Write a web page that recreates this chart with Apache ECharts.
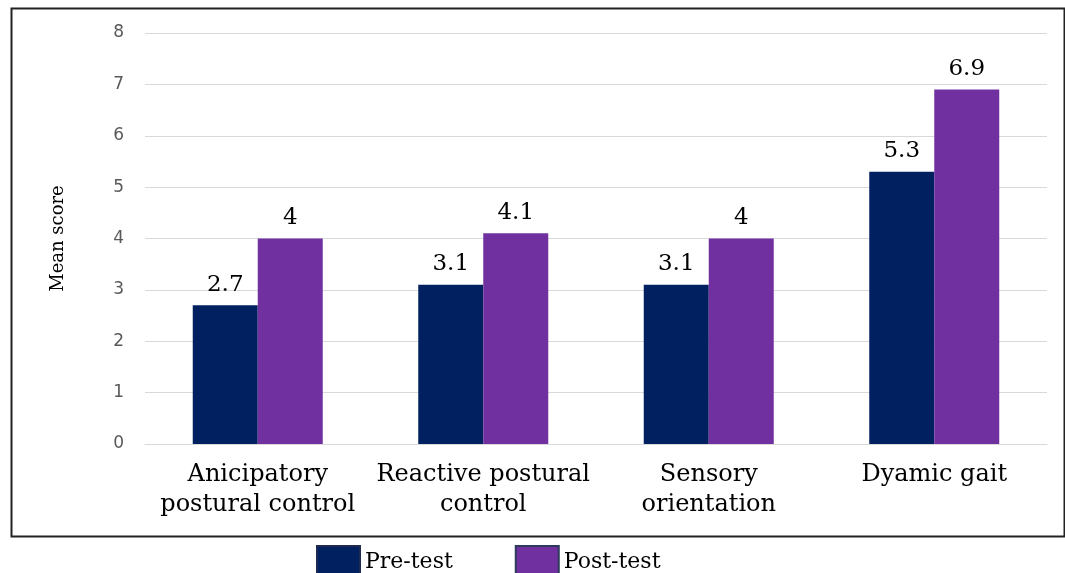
<!DOCTYPE html>
<html>
<head>
<meta charset="utf-8">
<script src="https://cdn.jsdelivr.net/npm/echarts@6/dist/echarts.min.js"></script>
<style>html,body{margin:0;padding:0;background:#fff;}#c{width:1065px;height:573px;}</style>
</head>
<body>
<div id="c"></div>
<script>
const categories = ['Anicipatory\npostural control', 'Reactive postural\ncontrol', 'Sensory\norientation', 'Dyamic gait'];
const preTest = [2.7, 3.1, 3.1, 5.3];
const postTest = [4, 4.1, 4, 6.9];
const yTicks = [0, 8, 1];

const chart = echarts.init(document.getElementById('c'), null, {renderer: 'canvas'});
const labelStyle = {show: true, position: 'top', distance: 9, color: '#000', fontFamily: 'DejaVu Serif', fontSize: 23};
chart.setOption({
  animation: false,
  backgroundColor: '#fff',
  graphic: [{
    type: 'rect', left: 9, top: 6, z: -1,
    shape: {width: 1053, height: 528},
    style: {fill: 'none', stroke: '#222', lineWidth: 2}
  }],
  legend: {
    left: 311, top: 540,
    icon: 'rect',
    itemWidth: 43, itemHeight: 33, itemGap: 62,
    textStyle: {fontFamily: 'DejaVu Serif', fontSize: 22, color: '#000'},
    data: [
      {name: 'Pre-test', itemStyle: {borderColor: '#1f2a50', borderWidth: 2}},
      {name: 'Post-test', itemStyle: {borderColor: '#2e3a5c', borderWidth: 2}}
    ]
  },
  grid: {left: 145, right: 18, top: 33, bottom: 129, containLabel: false},
  xAxis: {
    type: 'category', data: categories,
    axisLine: {lineStyle: {color: '#d9d9d9', width: 1}},
    axisTick: {show: false},
    axisLabel: {color: '#000', fontFamily: 'DejaVu Serif', fontSize: 24, lineHeight: 30, margin: 16, interval: 0}
  },
  yAxis: {
    type: 'value', min: yTicks[0], max: yTicks[1], interval: yTicks[2],
    name: 'Mean score', nameLocation: 'middle', nameGap: 78, nameRotate: 90,
    nameTextStyle: {fontFamily: 'DejaVu Serif', fontSize: 18, color: '#000'},
    axisLine: {show: false}, axisTick: {show: false},
    axisLabel: {color: '#595959', fontFamily: 'DejaVu Sans', fontSize: 17, margin: 21},
    splitLine: {lineStyle: {color: '#d9d9d9', width: 1}}
  },
  series: [
    {name: 'Pre-test', type: 'bar', data: preTest, barWidth: 65, barGap: '0%',
     itemStyle: {color: '#002060'}, label: labelStyle},
    {name: 'Post-test', type: 'bar', data: postTest, barWidth: 65, barGap: '0%',
     itemStyle: {color: '#7030a0'}, label: labelStyle}
  ]
});
</script>
</body>
</html>
